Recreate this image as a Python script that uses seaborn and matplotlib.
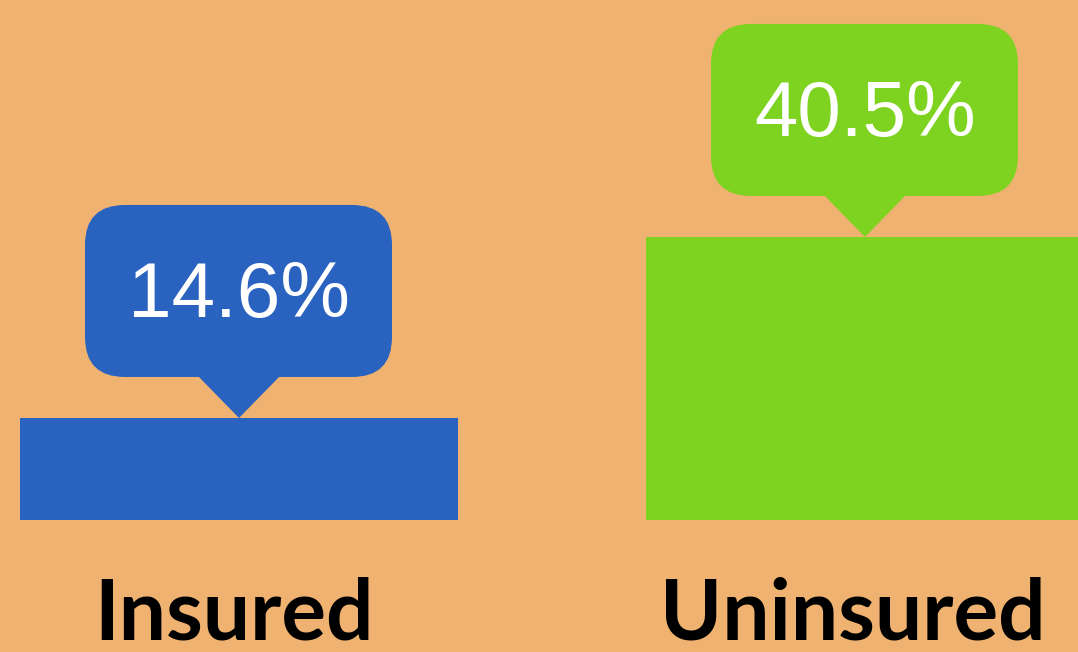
import matplotlib
matplotlib.use("Agg")
import matplotlib.pyplot as plt
import matplotlib.transforms as mtransforms
from matplotlib.patches import FancyBboxPatch, Polygon
import seaborn as sb

categorias = ["Insured", "Uninsured"]
valores = [14.6, 40.5]
etichete = ["14.6%", "40.5%"]
culori = ["#2962BF", "#7ED321"]
fundal = "#EFB270"

f = plt.figure(figsize=(10.78, 6.52), dpi=100)
f.patch.set_facecolor(fundal)
ax = f.add_axes([0, 0, 1, 1])
ax.set_facecolor(fundal)

sb.barplot(x=categorias, y=valores, hue=categorias, palette=culori, legend=False,
           width=0.7, saturation=1, ax=ax)

ax.set_xlim(-0.3818, 1.3403)
ax.set_ylim(-18.88, 74.4)
ax.axis("off")

deplasare = [-5, -12]  # etichetele de jos nu sunt chiar centrate pe bare

# callout-uri in pixeli, relativ la varful barei
for bara, text, cul, cat, dx in zip(ax.patches, etichete, culori, categorias, deplasare):
    xc = bara.get_x() + bara.get_width() / 2
    top = bara.get_height()
    tr = mtransforms.Affine2D().scale(f.dpi / 100) + mtransforms.ScaledTranslation(xc, top, ax.transData)
    box = FancyBboxPatch((-154, 41), 307, 172, boxstyle="round,pad=0,rounding_size=40",
                         facecolor=cul, edgecolor="none", transform=tr, clip_on=False)
    ax.add_patch(box)
    tri = Polygon([(-42, 43), (42, 43), (0, 0)], closed=True, facecolor=cul,
                  edgecolor="none", transform=tr, clip_on=False)
    ax.add_patch(tri)
    ax.text(0, 100.5, text, transform=tr, ha="center", va="baseline", color="white",
            fontsize=56.3, family="Liberation Sans")
    tr_jos = mtransforms.Affine2D().scale(f.dpi / 100) + mtransforms.ScaledTranslation(xc, -17.03, ax.transData)
    ax.text(dx, 0, cat, transform=tr_jos, ha="center", va="baseline", color="black",
            fontsize=60.3, family="Lato", fontweight="bold")

f.savefig("out.png", dpi=100, facecolor=fundal)
